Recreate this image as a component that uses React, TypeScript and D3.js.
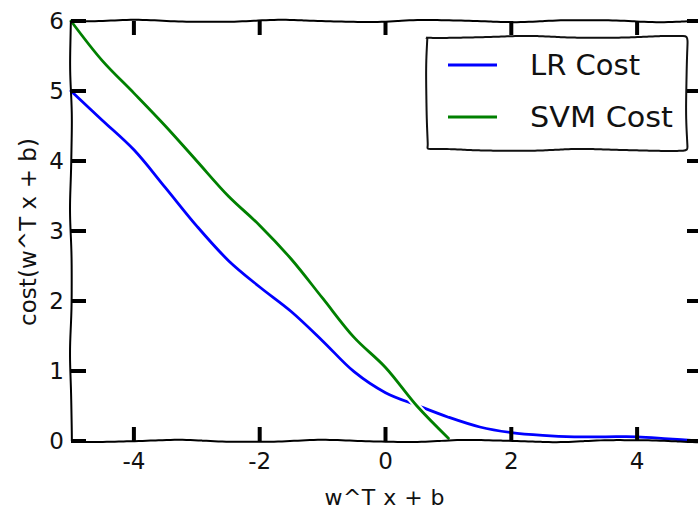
import * as d3 from "d3";
import { useMemo } from "react";

// values (cost vs. w^T x + b)
const zGrid = [-5, -4.5, -4, -3.5, -3, -2.5, -2, -1.5, -1, -0.5, 0, 0.5, 1, 1.5, 2, 2.5, 3, 3.5, 4, 4.5, 5];
const lrCost = [5.0, 4.58, 4.16, 3.62, 3.07, 2.58, 2.2, 1.85, 1.43, 0.99, 0.69, 0.51, 0.34, 0.2, 0.12, 0.08, 0.06, 0.06, 0.06, 0.03, 0.0];
const svmZ = [-5, -4.5, -4, -3.5, -3, -2.5, -2, -1.5, -1, -0.5, 0, 0.5, 1];
const svmCost = [6.0, 5.43, 4.97, 4.5, 4.0, 3.5, 3.08, 2.6, 2.04, 1.48, 1.05, 0.5, 0.04];
const xTicks = [-4, -2, 0, 2, 4];
const yTicks = [0, 1, 2, 3, 4, 5, 6];
const legendLabels = ["LR Cost", "SVM Cost"];
const colors = ["#0000ff", "#008000"];

const W = 698;
const H = 514;

// hand-drawn look: resample a polyline and nudge it sideways
function sketch(pts: [number, number][], amp: number, seed: number, closed = false): string {
  const out: [number, number][] = [];
  let dist = 0;
  for (let i = 0; i < pts.length - 1; i++) {
    const [x0, y0] = pts[i];
    const [x1, y1] = pts[i + 1];
    const len = Math.hypot(x1 - x0, y1 - y0);
    const nx = -(y1 - y0) / len;
    const ny = (x1 - x0) / len;
    const n = Math.max(2, Math.ceil(len / 4));
    for (let k = 0; k <= n; k++) {
      if (i > 0 && k === 0) continue;
      const t = k / n;
      const d = dist + t * len;
      const off = amp * (0.85 * Math.sin(d / 24 + seed) + 0.15 * Math.sin(d / 11 + seed * 2.3));
      out.push([x0 + (x1 - x0) * t + nx * off, y0 + (y1 - y0) * t + ny * off]);
    }
    dist += len;
  }
  return d3.line().curve(d3.curveBasis)(out) + (closed ? "Z" : "");
}

const tickFont = "'DejaVu Sans', sans-serif";
const legendFont = "'Comic Sans MS', 'DejaVu Sans', sans-serif";

export default function App() {
  const x = d3.scaleLinear().domain([-5, 5]).range([71, 700]);
  const y = d3.scaleLinear().domain([0, 6]).range([441, 21]);

  const line = d3
    .line<[number, number]>()
    .x((d) => x(d[0]))
    .y((d) => y(d[1]))
    .curve(d3.curveCatmullRom);

  const series = useMemo(
    () => [
      line(zGrid.map((z, i) => [z, lrCost[i]] as [number, number])),
      line(svmZ.map((z, i) => [z, svmCost[i]] as [number, number])),
    ],
    []
  );

  const [x0, x1] = x.range();
  const [y0, y1] = y.range();

  const spines = [
    sketch([[x0, y0], [x1, y0]], 1.2, 0.4),
    sketch([[x0, y1], [x1, y1]], 1.2, 2.1),
    sketch([[x0, y0], [x0, y1]], 1.0, 1.2),
    sketch([[x1, y0], [x1, y1]], 1.0, 3.3),
  ];

  const lg = { left: 427, top: 37, right: 687, bottom: 150 };
  const legendBox = sketch(
    [
      [lg.left, lg.top],
      [lg.right, lg.top],
      [lg.right, lg.bottom],
      [lg.left, lg.bottom],
      [lg.left, lg.top],
    ],
    1.1,
    0.7,
    true
  );
  const legendRows = [65, 117];
  const legendTextLen = [110, 143];

  return (
    <svg
      width={W}
      height={H}
      style={{ position: "absolute", left: 0, top: 0, background: "#fff" }}
    >
      <rect width={W} height={H} fill="#fff" />

      {/* data lines with white halo */}
      {series.map((d, i) => (
        <g key={i}>
          <path d={d || ""} fill="none" stroke="#fff" strokeWidth={7} strokeLinecap="round" />
          <path d={d || ""} fill="none" stroke={colors[i]} strokeWidth={2.8} strokeLinecap="round" />
        </g>
      ))}

      {/* spines */}
      {spines.map((d, i) => (
        <path key={i} d={d} fill="none" stroke="#000" strokeWidth={2} />
      ))}

      {/* ticks */}
      {xTicks.map((t) => (
        <g key={"xt" + t}>
          <line x1={x(t)} x2={x(t)} y1={y0} y2={y0 - 14} stroke="#000" strokeWidth={4} />
          <line x1={x(t)} x2={x(t)} y1={y1} y2={y1 + 14} stroke="#000" strokeWidth={4} />
          <text
            x={x(t)}
            y={y0 + 28}
            textAnchor="middle"
            fontFamily={tickFont}
            fontSize={23}
            fill="#111"
          >
            {t < 0 ? "-" + Math.abs(t) : t}
          </text>
        </g>
      ))}
      {yTicks.map((t) => (
        <g key={"yt" + t}>
          <line x1={x0} x2={x0 + 15} y1={y(t)} y2={y(t)} stroke="#000" strokeWidth={4} />
          <line x1={x1} x2={x1 - 13} y1={y(t)} y2={y(t)} stroke="#000" strokeWidth={4} />
          <text
            x={x0 - 7}
            y={y(t) + 8}
            textAnchor="end"
            fontFamily={tickFont}
            fontSize={23}
            fill="#111"
          >
            {t}
          </text>
        </g>
      ))}

      {/* axis labels */}
      <text
        x={(x0 + x1) / 2 - 1}
        y={505}
        textAnchor="middle"
        fontFamily={tickFont}
        fontSize={22}
        textLength={120}
        lengthAdjust="spacing"
        fill="#111"
      >
        w^T x + b
      </text>
      <text
        transform={`translate(36, ${232}) rotate(-90)`}
        textAnchor="middle"
        fontFamily={tickFont}
        fontSize={23}
        textLength={188}
        lengthAdjust="spacing"
        fill="#111"
      >
        cost(w^T x + b)
      </text>

      {/* legend */}
      <path d={legendBox} fill="#fff" stroke="#111" strokeWidth={2} />
      {legendLabels.map((lab, i) => (
        <g key={lab}>
          <line
            x1={448}
            x2={497}
            y1={legendRows[i]}
            y2={legendRows[i]}
            stroke={colors[i]}
            strokeWidth={3}
          />
          <text
            x={530}
            y={legendRows[i] + 10}
            fontFamily={legendFont}
            fontSize={29}
            textLength={legendTextLen[i]}
            lengthAdjust="spacingAndGlyphs"
            fill="#111"
          >
            {lab}
          </text>
        </g>
      ))}
    </svg>
  );
}
